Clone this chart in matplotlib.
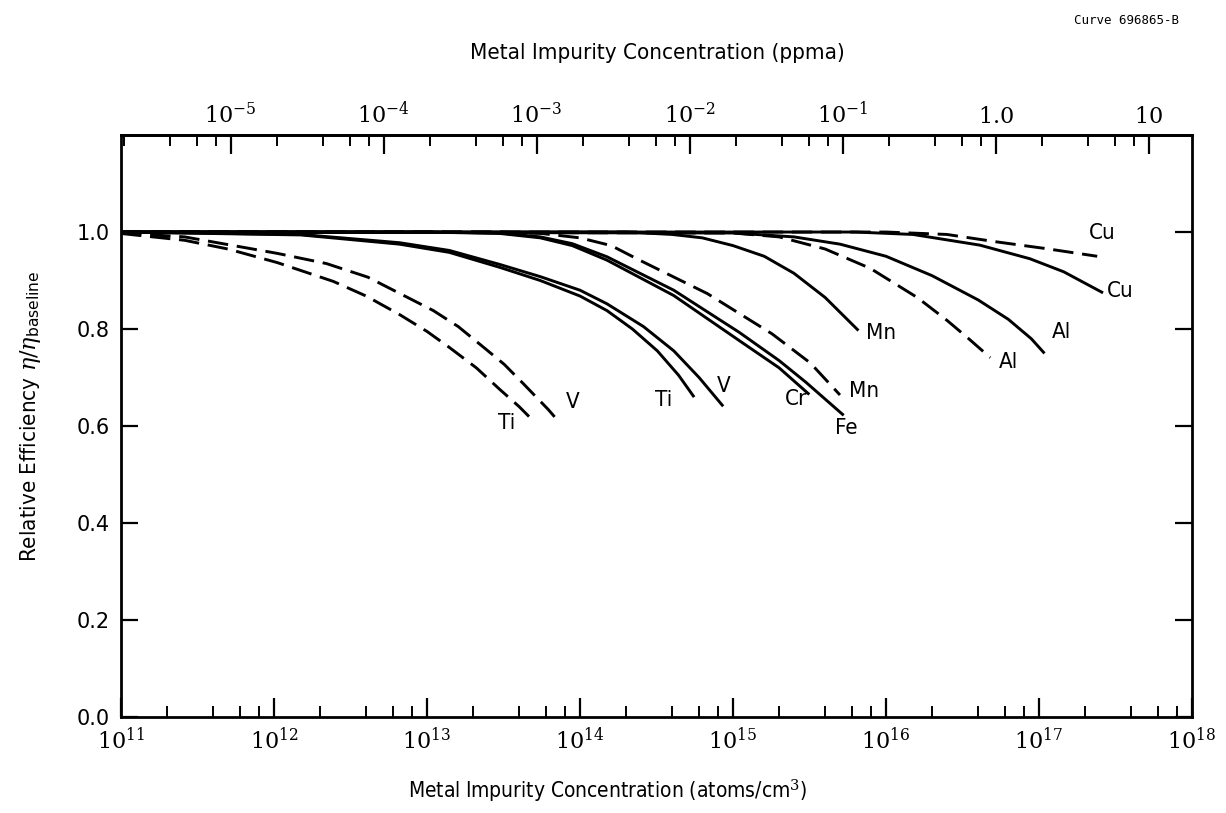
import matplotlib
matplotlib.use("Agg")
import matplotlib.pyplot as plt
from matplotlib.ticker import LogLocator, NullFormatter, FixedLocator, FixedFormatter

# ---------------------------------------------------------------------------
# Curves: concentration (atoms/cm^3) -> eta / eta_baseline
# ---------------------------------------------------------------------------
ti_dash_x = [1e11, 2.6e11, 5.0e11, 1.05e12, 2.45e12, 4.0e12, 6.6e12, 1.0e13,
             1.4e13, 2.1e13, 3.0e13, 4.0e13, 4.9e13]
ti_dash_y = [0.997, 0.983, 0.965, 0.937, 0.898, 0.868, 0.830, 0.795,
             0.762, 0.720, 0.675, 0.640, 0.612]

v_dash_x = [1e11, 2.6e11, 1.05e12, 2.2e12, 4.1e12, 1.1e13, 1.6e13, 2.35e13,
            3.2e13, 4.3e13, 6.2e13, 7.4e13]
v_dash_y = [0.998, 0.990, 0.956, 0.935, 0.907, 0.838, 0.805, 0.762,
            0.727, 0.686, 0.634, 0.606]

ti_x = [1e11, 1.5e12, 6.6e12, 1.4e13, 3.0e13, 5.5e13, 1.0e14, 1.5e14,
        2.2e14, 3.2e14, 4.4e14, 5.5e14]
ti_y = [1.0, 0.994, 0.975, 0.958, 0.927, 0.900, 0.868, 0.838,
        0.800, 0.755, 0.705, 0.662]

v_x = [1e11, 1.5e12, 6.6e12, 1.4e13, 3.0e13, 5.5e13, 1.0e14, 1.5e14,
       2.6e14, 4.1e14, 6.0e14, 8.5e14]
v_y = [1.0, 0.995, 0.978, 0.962, 0.933, 0.908, 0.880, 0.852,
       0.805, 0.755, 0.700, 0.643]

cr_x = [1e11, 1e13, 3e13, 5.5e13, 8.9e13, 1.5e14, 4.1e14, 1.1e15, 2.0e15, 3.1e15]
cr_y = [1.0, 1.0, 0.997, 0.988, 0.972, 0.942, 0.869, 0.776, 0.720, 0.667]

fe_x = [1e11, 1e13, 3e13, 5.5e13, 8.9e13, 1.5e14, 4.1e14, 1.1e15, 2.0e15,
        3.0e15, 5.2e15]
fe_y = [1.0, 1.0, 0.998, 0.990, 0.976, 0.949, 0.880, 0.793, 0.735,
        0.690, 0.624]

mn_dash_x = [1e11, 3e13, 5.6e13, 1.0e14, 1.6e14, 2.45e14, 6.8e14, 1.8e15,
             3.2e15, 5.0e15]
mn_dash_y = [1.0, 1.0, 0.997, 0.988, 0.972, 0.942, 0.873, 0.790,
             0.730, 0.664]

mn_x = [1e11, 2.0e14, 4.0e14, 6.3e14, 1.0e15, 1.6e15, 2.5e15, 4.0e15, 6.5e15]
mn_y = [1.0, 1.0, 0.995, 0.988, 0.972, 0.950, 0.915, 0.865, 0.799]

al_dash_x = [1e11, 1e15, 2.0e15, 4.0e15, 7.9e15, 1.6e16, 2.5e16, 3.5e16, 4.8e16]
al_dash_y = [1.0, 0.998, 0.990, 0.965, 0.925, 0.865, 0.818, 0.779, 0.741]

al_x = [1e11, 1e15, 2.5e15, 5.0e15, 1e16, 2.0e16, 4.0e16, 6.3e16, 8.9e16, 1.07e17]
al_y = [1.0, 0.998, 0.990, 0.975, 0.950, 0.910, 0.860, 0.820, 0.780, 0.752]

cu_x = [1e11, 6.3e15, 1.5e16, 4.1e16, 8.7e16, 1.45e17, 2.57e17]
cu_y = [1.0, 1.0, 0.995, 0.973, 0.945, 0.918, 0.876]

cu_dash_x = [1e11, 1e16, 2.5e16, 5.2e16, 1.1e17, 2.4e17]
cu_dash_y = [1.0, 1.0, 0.995, 0.980, 0.966, 0.950]

# element labels placed next to the curve ends
label_text = ["Ti", "V", "Ti", "V", "Cr", "Fe", "Mn", "Mn", "Al", "Al", "Cu", "Cu"]
label_x = [3.3e13, 8.9e13, 3.5e14, 8.7e14, 2.6e15, 5.5e15, 7.2e15, 9.3e15,
           6.3e16, 1.4e17, 3.4e17, 2.6e17]
label_y = [0.606, 0.650, 0.654, 0.683, 0.655, 0.595, 0.672, 0.791,
           0.732, 0.793, 0.878, 0.999]

# bottom axis (atoms/cm^3) and top axis (ppma) ticks
atoms_ticks = [1e11, 1e12, 1e13, 1e14, 1e15, 1e16, 1e17, 1e18]
atoms_labels = [r"$10^{11}$", r"$10^{12}$", r"$10^{13}$", r"$10^{14}$",
                r"$10^{15}$", r"$10^{16}$", r"$10^{17}$", r"$10^{18}$"]
ppma_ticks = [1e-5, 1e-4, 1e-3, 1e-2, 1e-1, 1.0, 10.0]
ppma_labels = [r"$10^{-5}$", r"$10^{-4}$", r"$10^{-3}$", r"$10^{-2}$",
               r"$10^{-1}$", r"$1.0$", r"$10$"]
ATOMS_PER_PPMA = 5.2e16   # ~ Si atomic density * 1e-6

# ---------------------------------------------------------------------------
plt.rcParams["mathtext.fontset"] = "dejavuserif"
LAB = dict(family="DejaVu Sans", stretch="condensed")

fig = plt.figure(figsize=(12.26, 8.13), dpi=100)
ax = fig.add_axes([0.0987, 0.1181, 0.8736, 0.7158])

solid = dict(color="black", lw=2.1, ls="-")
dash = dict(color="black", lw=2.1, ls=(0, (7, 3)))

ax.plot(ti_dash_x, ti_dash_y, **dash)
ax.plot(v_dash_x, v_dash_y, **dash)
ax.plot(ti_x, ti_y, **solid)
ax.plot(v_x, v_y, **solid)
ax.plot(cr_x, cr_y, **solid)
ax.plot(fe_x, fe_y, **solid)
ax.plot(mn_dash_x, mn_dash_y, **dash)
ax.plot(mn_x, mn_y, **solid)
ax.plot(al_dash_x, al_dash_y, **dash)
ax.plot(al_x, al_y, **solid)
ax.plot(cu_x, cu_y, **solid)
ax.plot(cu_dash_x, cu_dash_y, **dash)

for t, x, y in zip(label_text, label_x, label_y):
    ax.text(x, y, t, ha="center", va="center", fontsize=16, **LAB)

ax.set_xscale("log")
ax.set_xlim(1e11, 1e18)
ax.set_ylim(0.0, 1.2)

ax.xaxis.set_major_locator(FixedLocator(atoms_ticks))
ax.xaxis.set_major_formatter(FixedFormatter(atoms_labels))
ax.xaxis.set_minor_locator(LogLocator(base=10, subs=(2, 4, 6, 8), numticks=20))
ax.xaxis.set_minor_formatter(NullFormatter())
ax.set_yticks([0.0, 0.2, 0.4, 0.6, 0.8, 1.0])
ax.set_yticklabels(["0.0", "0.2", "0.4", "0.6", "0.8", "1.0"])

ax.tick_params(axis="x", which="major", direction="in", length=14, width=1.6,
               labelsize=16, pad=7, top=False)
ax.tick_params(axis="x", which="minor", direction="in", length=8, width=1.4, top=False)
ax.tick_params(axis="y", which="major", direction="in", length=12, width=1.6,
               labelsize=15, pad=8, right=True)
for s in ax.spines.values():
    s.set_linewidth(2.0)

sec = ax.secondary_xaxis("top", functions=(lambda a: a / ATOMS_PER_PPMA,
                                           lambda p: p * ATOMS_PER_PPMA))
sec.xaxis.set_major_locator(FixedLocator(ppma_ticks))
sec.xaxis.set_major_formatter(FixedFormatter(ppma_labels))
sec.xaxis.set_minor_locator(LogLocator(base=10, subs=(2, 4, 6, 8), numticks=20))
sec.xaxis.set_minor_formatter(NullFormatter())
sec.tick_params(which="major", direction="in", length=14, width=1.6,
                labelsize=16, pad=6)
sec.tick_params(which="minor", direction="in", length=8, width=1.4)
sec.spines["top"].set_linewidth(2.0)

ax.set_ylabel(r"Relative Efficiency $\eta/\eta_{\mathsf{baseline}}$",
              fontsize=16, **LAB)
ax.yaxis.set_label_coords(-0.073, 0.517)
fig.text(0.536, 0.935, "Metal Impurity Concentration (ppma)",
         ha="center", va="center", fontsize=16, **LAB)
fig.text(0.496, 0.027, r"Metal Impurity Concentration (atoms/cm$^3$)",
         ha="center", va="center", fontsize=15, **LAB)
fig.text(0.962, 0.975, "Curve 696865-B", ha="right", va="center",
         fontsize=9, family="DejaVu Sans Mono")

fig.savefig("out.png", dpi=100)
